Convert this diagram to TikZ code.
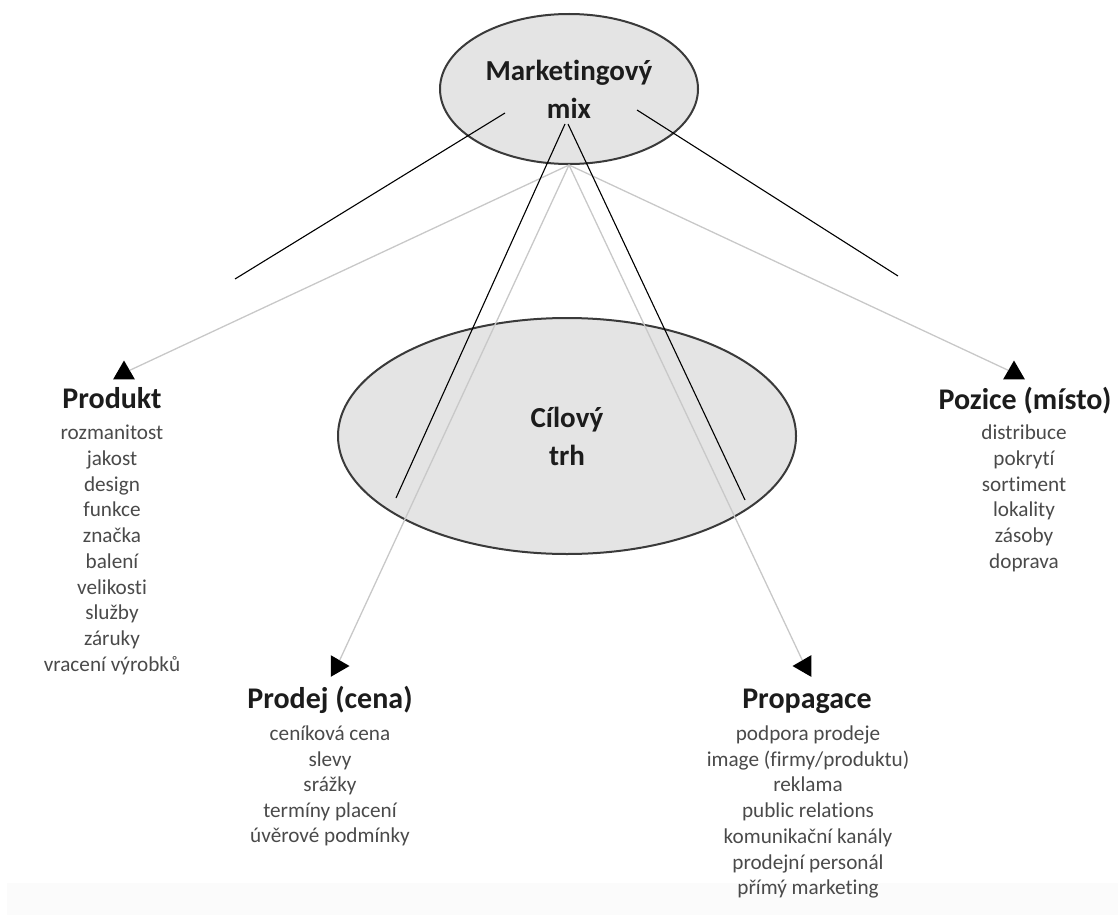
\documentclass[tikz,border=0pt]{standalone}
\usepackage{fontspec}
\setmainfont{Carlito}[Ligatures=NoCommon]
\usetikzlibrary{shapes.geometric}
\definecolor{ellfill}{HTML}{E4E4E4}
\definecolor{ellline}{HTML}{3A3A3A}
\definecolor{greyline}{HTML}{C8C8C8}
\definecolor{itemcol}{HTML}{4A4A4A}
\definecolor{titlecol}{HTML}{1C1C1C}
\definecolor{bandcol}{HTML}{FBFBFB}
\begin{document}
\begin{tikzpicture}[x=1pt,y=-1pt,
  ell/.style={ellipse, draw=ellline, line width=2pt, fill=ellfill, inner sep=0pt, align=center,
    font=\fontsize{29}{38}\selectfont\bfseries, text=titlecol},
  ttl/.style={font=\fontsize{30}{36}\selectfont\bfseries, text=titlecol, inner sep=0pt,
    text height=0.8em, text depth=0.16em},
  item/.style={font=\fontsize{21.2}{25}\selectfont, text=itemcol, inner sep=0pt,
    text height=0.7em, text depth=0.2em},
  tri/.style={regular polygon, regular polygon sides=3, fill=black, draw=none, inner sep=0pt, minimum size=25pt},
  greyconn/.style={draw=greyline, line width=1.3pt},
  blackconn/.style={draw=black, line width=1.1pt}]
\useasboundingbox (0,0) rectangle (1118,915);
\fill[bandcol] (7,883) rectangle (1118,915);

% ellipses
\node[ell, minimum width=258pt, minimum height=150pt] (mix) at (569,89) {Marketingový\\mix};
\node[ell, minimum width=458pt, minimum height=236pt] (trh) at (567,436) {Cílový\\trh};

% arrowhead triangles
\node[tri] (tprod) at (124,373) {};
\node[tri, shape border rotate=-90] (tcena) at (337,666) {};
\node[tri, shape border rotate=90] (tprop) at (805,666) {};
\node[tri] (tpoz) at (1014,373) {};

% grey connectors
\draw[greyconn] (mix.south) -- (tprod);
\draw[greyconn] (mix.south) -- (tcena);
\draw[greyconn] (mix.south) -- (tprop);
\draw[greyconn] (mix.south) -- (tpoz);

% black lines
\coordinate (a1) at (505,113); \coordinate (b1) at (235,279);
\coordinate (a2) at (565,124); \coordinate (b2) at (396,498);
\coordinate (a3) at (568,124); \coordinate (b3) at (745,500);
\coordinate (a4) at (637,110); \coordinate (b4) at (898,276);
\draw[blackconn] (a1) -- (b1);
\draw[blackconn] (a2) -- (b2);
\draw[blackconn] (a3) -- (b3);
\draw[blackconn] (a4) -- (b4);

% titles
\node[ttl] (produkt) at (112,405) {Produkt};
\node[ttl] (pozice) at (1025,406) {Pozice (místo)};
\node[ttl] (prodej) at (330,705) {Prodej (cena)};
\node[ttl] (propagace) at (807,705) {Propagace};

% items
\foreach \t [count=\i] in {rozmanitost, jakost, design, funkce, značka, balení, velikosti, služby, záruky, vracení výrobků}
  \node[item] (prod\i) at (112,{437+25.75*(\i-1)}) {\t};
\foreach \t [count=\i] in {distribuce, pokrytí, sortiment, lokality, zásoby, doprava}
  \node[item] (poz\i) at (1024,{437+25.75*(\i-1)}) {\t};
\foreach \t [count=\i] in {ceníková cena, slevy, srážky, termíny placení, úvěrové podmínky}
  \node[item] (cena\i) at (330,{738+25.6*(\i-1)}) {\t};
\foreach \t [count=\i] in {podpora prodeje, image (firmy/produktu), reklama, public relations, komunikační kanály, prodejní personál, přímý marketing}
  \node[item] (prop\i) at (808,{738+25.7*(\i-1)}) {\t};
\end{tikzpicture}
\end{document}
